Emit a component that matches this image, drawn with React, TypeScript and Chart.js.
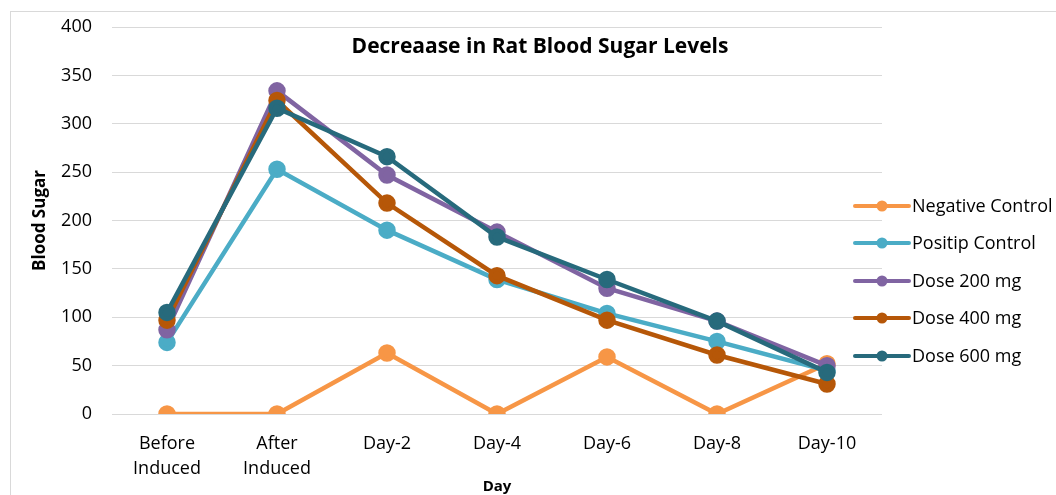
import React, { useEffect, useRef } from "react";
import { Chart, registerables } from "chart.js";

Chart.register(...registerables);

const categories: string[][] = [
  ["Before", "Induced"],
  ["After", "Induced"],
  ["Day-2"],
  ["Day-4"],
  ["Day-6"],
  ["Day-8"],
  ["Day-10"],
];

const seriesNames = ["Negative Control", "Positip Control", "Dose 200 mg", "Dose 400 mg", "Dose 600 mg"];
const negativeControl = [0, 0, 63, 0, 59, 0, 52];
const positipControl = [74, 253, 190, 139, 104, 75, 45];
const dose200 = [87, 334, 247, 188, 130, 96, 50];
const dose400 = [97, 324, 218, 143, 97, 61, 31];
const dose600 = [105, 316, 266, 183, 139, 96, 43];
const seriesColors = ["#F79646", "#4BACC6", "#8064A2", "#B65708", "#276A7C"];

const chartTitle = "Decreaase in Rat Blood Sugar Levels";
const xTitle = "Day";
const yTitle = "Blood Sugar";
const FONT = "'Open Sans', Lato, sans-serif";

const overlayPlugin = {
  id: "overlay",
  afterDraw(chart: any) {
    const ctx = chart.ctx;
    const area = chart.chartArea;
    ctx.save();
    // title
    ctx.font = `bold 21px ${FONT}`;
    ctx.fillStyle = "#000";
    ctx.textAlign = "center";
    ctx.textBaseline = "middle";
    ctx.fillText(chartTitle, 529, 35);
    // legend
    const x0 = area.right - 28;
    const rows = [194, 231, 269, 306, 344];
    chart.data.datasets.forEach((ds: any, i: number) => {
      const y = rows[i];
      ctx.strokeStyle = ds.borderColor;
      ctx.lineWidth = 4;
      ctx.lineCap = "round";
      ctx.beginPath();
      ctx.moveTo(x0 + 1, y);
      ctx.lineTo(x0 + 55, y);
      ctx.stroke();
      ctx.fillStyle = ds.borderColor;
      ctx.beginPath();
      ctx.arc(x0 + 28, y, 5.5, 0, Math.PI * 2);
      ctx.fill();
      ctx.fillStyle = "#000";
      ctx.font = `18px ${FONT}`;
      ctx.textAlign = "left";
      ctx.fillText(ds.label, x0 + 58, y + 1);
    });
    ctx.restore();
  },
};

export default function App() {
  const ref = useRef<HTMLCanvasElement>(null);
  useEffect(() => {
    if (!ref.current) return;
    const data = [negativeControl, positipControl, dose200, dose400, dose600];
    const chart = new Chart(ref.current, {
      type: "line",
      data: {
        labels: categories,
        datasets: data.map((d, i) => ({
          label: seriesNames[i],
          data: d,
          borderColor: seriesColors[i],
          backgroundColor: seriesColors[i],
          pointBackgroundColor: seriesColors[i],
          pointBorderColor: seriesColors[i],
          borderWidth: 4.5,
          pointRadius: 6.5,
          pointHoverRadius: 6.5,
          tension: 0,
          order: 5 - i,
        })),
      },
      options: {
        animation: false,
        responsive: false,
        maintainAspectRatio: false,
        layout: { padding: { left: 0, right: 219, top: 15, bottom: 0 } },
        plugins: {
          legend: { display: false },
          title: { display: false },
          tooltip: { enabled: false },
        },
        scales: {
          x: {
            offset: true,
            grid: { display: false },
            border: { display: false },
            ticks: {
              color: "#000",
              font: { family: FONT, size: 18, lineHeight: 1.4 },
              padding: 9,
              maxRotation: 0,
              autoSkip: false,
            },
            title: {
              display: true,
              text: xTitle,
              color: "#000",
              font: { family: FONT, size: 15, weight: "bold" },
              padding: { top: 2, bottom: 6 },
            },
            afterFit: (s: any) => {
              s.height = 88;
            },
          },
          y: {
            min: 0,
            max: 400,
            grid: { color: "#d9d9d9", lineWidth: 1, drawTicks: true, tickLength: 18, tickColor: "rgba(0,0,0,0)" },
            border: { display: false },
            ticks: { stepSize: 50, color: "#000", font: { family: FONT, size: 18 }, padding: 2 },
            title: {
              display: true,
              text: yTitle,
              color: "#000",
              font: { family: FONT, size: 17, weight: "bold" },
              padding: { top: 19, bottom: 0 },
            },
            afterFit: (s: any) => {
              s.width = 101;
            },
          },
        },
      },
      plugins: [overlayPlugin],
    });
    return () => chart.destroy();
  }, []);

  return (
    <div style={{ position: "fixed", left: 0, top: 0, width: 1056, height: 495, overflow: "hidden", background: "#fff" }}>
      <div
        style={{
          position: "absolute",
          left: 10,
          top: 11,
          width: 1100,
          height: 500,
          border: "1px solid #d9d9d9",
          background: "#fff",
        }}
      >
        <canvas ref={ref} width={1090} height={490} style={{ display: "block", width: 1090, height: 490 }} />
      </div>
    </div>
  );
}
